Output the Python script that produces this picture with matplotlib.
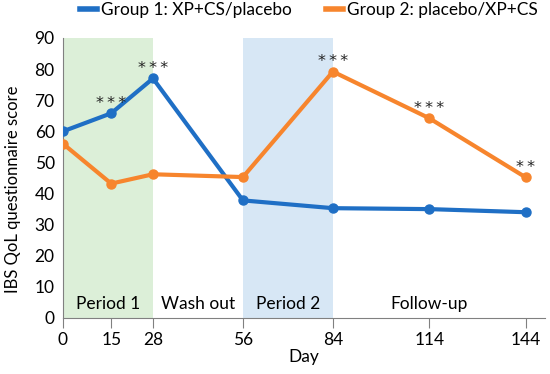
import matplotlib.pyplot as plt

# data
days = [0, 15, 28, 56, 84, 114, 144]
group1 = [60.0, 65.8, 77.0, 37.8, 35.3, 35.0, 34.0]
group2 = [56.0, 43.2, 46.2, 45.3, 79.2, 64.2, 45.2]
stars1 = {15: "***", 28: "***"}
stars2 = {84: "***", 114: "***", 144: "**"}
periods = ["Period 1", "Wash out", "Period 2", "Follow-up"]
period_pos = [14, 42, 70, 114]

plt.rcParams["font.family"] = ["Lato", "DejaVu Sans"]

blue = "#1f6fc5"
orange = "#f7852d"

fig = plt.figure(figsize=(5.5, 3.74), dpi=100)
ax = fig.add_axes([63 / 550, 1 - 318 / 374, (545 - 63) / 550, (318 - 38) / 374])

ax.axvspan(0, 28, color="#dcefd8", lw=0, zorder=0)
ax.axvspan(56, 84, color="#d7e7f5", lw=0, zorder=0)

ax.plot(days, group1, color=blue, lw=3, marker="o", ms=6.5, label="Group 1: XP+CS/placebo", zorder=3)
ax.plot(days, group2, color=orange, lw=3, marker="o", ms=6.5, label="Group 2: placebo/XP+CS", zorder=3)

# significance stars, slightly spaced out
for d, s in stars1.items():
    ax.text(d, group1[days.index(d)] + 0.8, "\u2009".join(s), ha="center", va="bottom",
            fontsize=11.5, family="DejaVu Sans", color="#222222")
for d, s in stars2.items():
    ax.text(d, group2[days.index(d)] + 0.8, "\u2009".join(s), ha="center", va="bottom",
            fontsize=11.5, family="DejaVu Sans", color="#222222")

for p, x in zip(periods, period_pos):
    ax.text(x, 1.8, p, ha="center", va="bottom", fontsize=12.5)

ax.set_xlim(0, 150)
ax.set_ylim(0, 90)
ax.set_xticks(days)
ax.set_yticks(range(0, 91, 10))
ax.tick_params(axis="x", length=7, color="#808080", labelsize=12.5, pad=3)
ax.tick_params(axis="y", length=0, labelsize=12.5, pad=6)
for side in ["top", "right"]:
    ax.spines[side].set_visible(False)
for side in ["left", "bottom"]:
    ax.spines[side].set_color("#808080")

ax.set_xlabel("Day", fontsize=12.5, labelpad=1)
ax.set_ylabel("IBS QoL questionnaire score", fontsize=12)
ax.yaxis.set_label_coords(-0.088, 0.46)

fig.legend(loc="upper left", bbox_to_anchor=(80 / 550, 1 - 2 / 374), ncol=2, frameon=False,
           fontsize=12.4, handlelength=1.0, handletextpad=0.2, columnspacing=2.0,
           borderpad=0, borderaxespad=0)
for line in fig.legends[0].get_lines():
    line.set_marker("")
    line.set_linewidth(4)

fig.savefig("out.png", dpi=100)
